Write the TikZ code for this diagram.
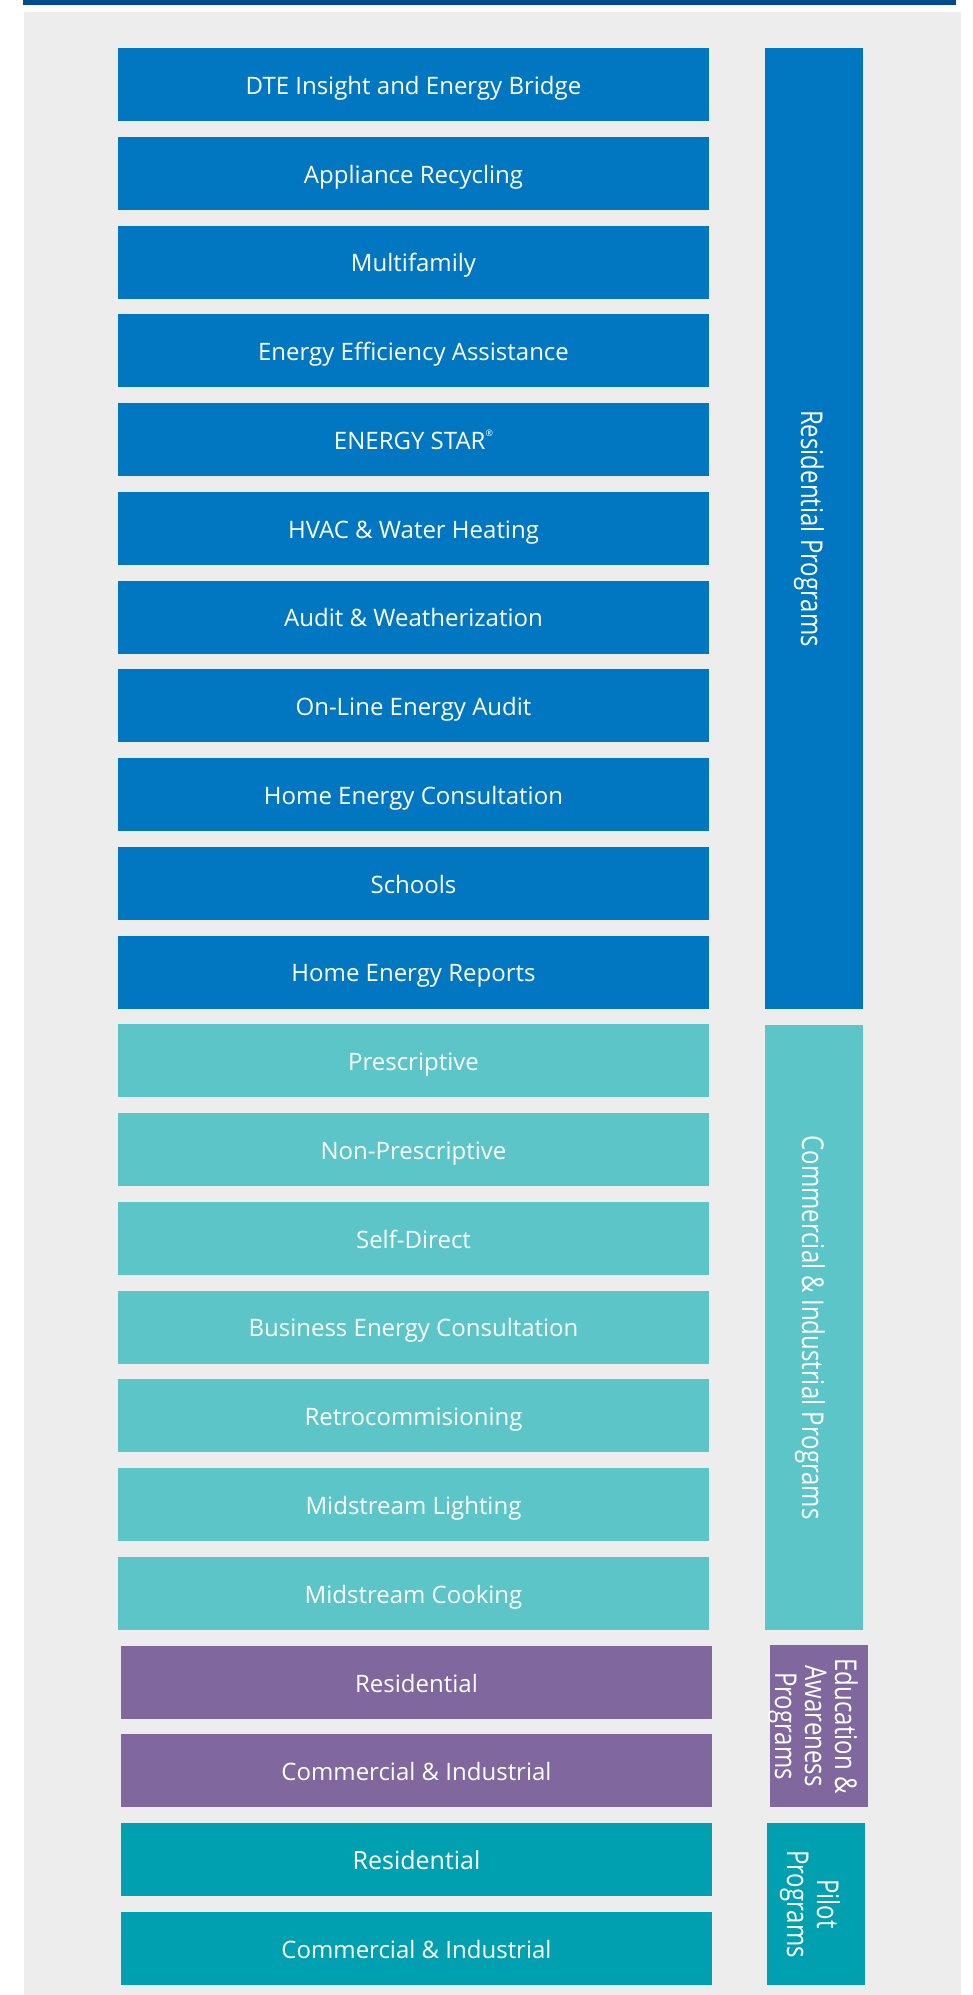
\documentclass[tikz,border=0pt]{standalone}
\usepackage{fontspec}
\usepackage{tikz}
\usetikzlibrary{positioning}

\newfontfamily\boxfont{Open Sans}
\newfontfamily\sidefont[FakeStretch=0.8]{Open Sans}
\newcommand{\regmark}{\raisebox{0.55em}{\fontsize{9}{9}\selectfont ®}}

\definecolor{resblue}{RGB}{0,119,192}
\definecolor{citeal}{RGB}{91,197,200}
\definecolor{edupurple}{RGB}{128,104,158}
\definecolor{pilotteal}{RGB}{0,160,176}
\definecolor{bggray}{RGB}{237,237,237}
\definecolor{topbar}{RGB}{0,75,141}

\tikzset{
  prog/.style={minimum width=591pt, minimum height=73pt, inner sep=0pt,
    text height=20pt, text depth=0.4pt,
    text=white, font=\boxfont\fontsize{24}{28}\selectfont},
  side/.style={rotate=-90, minimum height=98pt, inner sep=0pt},
  sidetext/.style={rotate=-90, inner sep=0pt, align=center,
    text=white, font=\sidefont\fontsize{30}{30}\selectfont}
}

\begin{document}
\begin{tikzpicture}[x=1pt, y=-1pt]
    % Background and top rule
    \useasboundingbox (0,0) rectangle (973,1995);
    \fill[bggray] (24,12) rectangle (961,1995);
    \fill[topbar] (23,0) rectangle (956,5);

    % Program boxes
    \foreach \i/\x/\c/\t in {1/413.5/resblue/DTE Insight and Energy Bridge,
        2/413.5/resblue/Appliance Recycling, 3/413.5/resblue/Multifamily,
        4/413.5/resblue/Energy Efficiency Assistance, 5/413.5/resblue/{ENERGY STAR\regmark},
        6/413.5/resblue/HVAC \& Water Heating, 7/413.5/resblue/Audit \& Weatherization,
        8/413.5/resblue/On-Line Energy Audit, 9/413.5/resblue/Home Energy Consultation,
        10/413.5/resblue/Schools, 11/413.5/resblue/Home Energy Reports,
        12/413.5/citeal/Prescriptive, 13/413.5/citeal/Non-Prescriptive,
        14/413.5/citeal/Self-Direct, 15/413.5/citeal/Business Energy Consultation,
        16/413.5/citeal/Retrocommisioning, 17/413.5/citeal/Midstream Lighting,
        18/413.5/citeal/Midstream Cooking,
        19/416.5/edupurple/Residential, 20/416.5/edupurple/Commercial \& Industrial,
        21/416.5/pilotteal/{\fontsize{25}{28}\selectfont Residential},
        22/416.5/pilotteal/Commercial \& Industrial} {
      \node[prog, fill=\c] (p\i) at (\x, {84.5+(\i-1)*88.76}) {\t};
    }

    % Category bars
    \node[side, fill=resblue, minimum width=961pt] (resprog) at (814,528.5) {};
    \node[side, fill=citeal, minimum width=605pt] (ciprog) at (814,1327.5) {};
    \node[side, fill=edupurple, minimum width=162pt] (eduprog) at (819,1726) {};
    \node[side, fill=pilotteal, minimum width=162pt] (pilotprog) at (816,1904) {};

    % Category labels
    \node[sidetext] (reslabel) at ([xshift=-5pt]resprog.center) {Residential Programs};
    \node[sidetext] (cilabel) at ([xshift=-4pt]ciprog.center) {Commercial \& Industrial Programs};
    \node[sidetext] (edulabel) at ([xshift=-6pt]eduprog.center) {Education \&\\Awareness\\Programs};
    \node[sidetext] (pilotlabel) at ([xshift=-6pt]pilotprog.center) {Pilot\\Programs};
\end{tikzpicture}
\end{document}
